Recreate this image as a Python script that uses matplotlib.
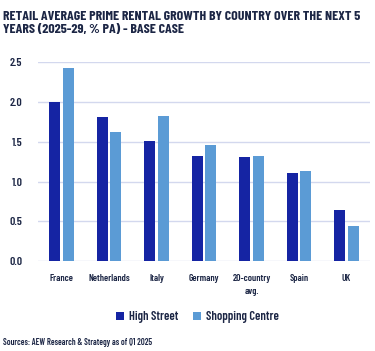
import matplotlib.pyplot as plt
import numpy as np

plt.rcParams['font.family'] = ['Barlow Condensed', 'DejaVu Sans']
plt.rcParams['font.weight'] = 'semibold'

countries = ['France', 'Netherlands', 'Italy', 'Germany', '20-country\navg.', 'Spain', 'UK']
high_street = [2.00, 1.81, 1.51, 1.32, 1.31, 1.11, 0.64]
shopping_centre = [2.43, 1.62, 1.82, 1.46, 1.32, 1.13, 0.44]

navy = '#1c2645'
c_hs = '#1524a3'
c_sc = '#5b9bd5'

fig = plt.figure(figsize=(3.75, 3.51), dpi=100)
ax = fig.add_axes([0.101, 0.256, 0.886, 0.567])

x = np.arange(len(countries))
w = 0.23
off = 0.145
ax.bar(x - off, high_street, w, color=c_hs, label='High Street', zorder=3)
ax.bar(x + off, shopping_centre, w, color=c_sc, label='Shopping Centre', zorder=3)

ax.set_xlim(-0.5, len(countries) - 0.5)
ax.set_ylim(0, 2.5)
yt = np.arange(0, 2.51, 0.5)
ax.set_yticks(yt)
ax.set_yticklabels([f'{v:.1f}' for v in yt])
ax.set_xticks(x)
ax.set_xticklabels(countries, fontsize=7, color=navy, linespacing=1.6)
ax.tick_params(axis='y', labelsize=8.5, colors=navy, length=0, pad=11)
ax.tick_params(axis='x', length=0, pad=9)
ax.grid(axis='y', color='#d3d8ee', linewidth=1, zorder=0)
for s in ax.spines.values():
    s.set_visible(False)

fig.text(0.008, 0.968, 'RETAIL AVERAGE PRIME RENTAL GROWTH BY COUNTRY OVER THE NEXT 5\nYEARS (2025-29, % PA) - BASE CASE',
         fontsize=10, fontweight='bold', color=navy, va='top', ha='left', linespacing=1.25)

ax.legend(loc='center', bbox_to_anchor=(0.48, -0.283), ncol=2, frameon=False,
          prop={'size': 9, 'weight': 'semibold'}, handlelength=0.6, handleheight=0.6,
          handletextpad=0.4, columnspacing=1.2, labelcolor=navy)

fig.text(0.008, 0.023, 'Sources: AEW Research & Strategy as of Q1 2025', fontsize=6.2, color=navy,
         ha='left', va='center')

fig.savefig('out.png', dpi=100)
